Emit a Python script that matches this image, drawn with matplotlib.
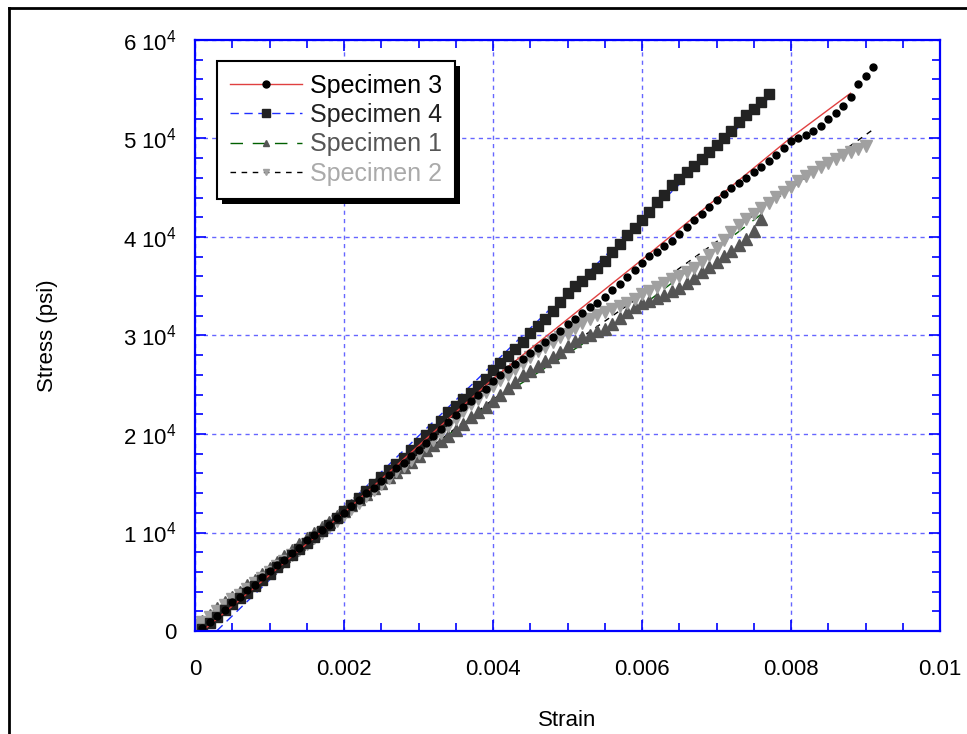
import matplotlib
matplotlib.use("Agg")
import matplotlib.pyplot as plt
from matplotlib.lines import Line2D
from matplotlib.patches import Rectangle
from matplotlib.transforms import IdentityTransform
from matplotlib.ticker import MultipleLocator

plt.rcParams['font.family'] = ['Liberation Sans', 'DejaVu Sans']
plt.rcParams['mathtext.default'] = 'regular'

# ---------------- data ----------------
spec3_strain = [0.0001, 0.0002, 0.0003, 0.0004, 0.0005, 0.0006, 0.0007, 0.0008, 0.0009, 0.0010,
                0.0011, 0.0012, 0.0013, 0.0014, 0.0015, 0.0016, 0.0017, 0.0018, 0.0019, 0.0020,
                0.0021, 0.0022, 0.0023, 0.0024, 0.0025, 0.0026, 0.0027, 0.0028, 0.0029, 0.0030,
                0.0031, 0.0032, 0.0033, 0.0034, 0.0035, 0.0036, 0.0037, 0.0038, 0.0039, 0.0040,
                0.0041, 0.0042, 0.0043, 0.0044, 0.0045, 0.0046, 0.0047, 0.0048, 0.0049, 0.0050,
                0.0051, 0.0052, 0.0053, 0.0054, 0.0055, 0.0056, 0.0057, 0.0058, 0.0059, 0.0060,
                0.0061, 0.0062, 0.0063, 0.0064, 0.0065, 0.0066, 0.0067, 0.0068, 0.0069, 0.0070,
                0.0071, 0.0072, 0.0073, 0.0074, 0.0075, 0.0076, 0.0077, 0.0078, 0.0079, 0.0080,
                0.0081, 0.0082, 0.0083, 0.0084, 0.0085, 0.0086, 0.0087, 0.0088, 0.0089, 0.0090,
                0.0091]
spec3_stress = [300, 900, 1500, 2100, 2900, 3500, 4200, 4700, 5500, 6100,
                6700, 7200, 7900, 8400, 9200, 9700, 10300, 10800, 11500, 12000,
                12700, 13300, 14000, 14500, 15200, 15800, 16500, 17100, 17800, 18400,
                19100, 19800, 20500, 21200, 21900, 22700, 23400, 24000, 24600, 25400,
                26000, 26600, 27100, 27600, 28200, 28700, 29300, 29800, 30500, 31200,
                31700, 32300, 32900, 33300, 33900, 34600, 35200, 35900, 36600, 37400,
                38100, 38500, 39100, 39600, 40300, 41000, 41700, 42300, 43000, 43800,
                44400, 45000, 45500, 46000, 46600, 47100, 47700, 48300, 49000, 49700,
                50000, 50400, 50800, 51300, 52000, 52600, 53300, 54200, 55500, 56300,
                57300]
spec3_fit_strain = [0.0001, 0.002, 0.004, 0.006, 0.008, 0.0088]
spec3_fit_stress = [0, 12000, 25600, 37700, 50100, 54600]

spec4_strain = [0.0001, 0.0002, 0.0003, 0.0004, 0.0005, 0.0006, 0.0007, 0.0008, 0.0009, 0.0010,
                0.0011, 0.0012, 0.0013, 0.0014, 0.0015, 0.0016, 0.0017, 0.0018, 0.0019, 0.0020,
                0.0021, 0.0022, 0.0023, 0.0024, 0.0025, 0.0026, 0.0027, 0.0028, 0.0029, 0.0030,
                0.0031, 0.0032, 0.0033, 0.0034, 0.0035, 0.0036, 0.0037, 0.0038, 0.0039, 0.0040,
                0.0041, 0.0042, 0.0043, 0.0044, 0.0045, 0.0046, 0.0047, 0.0048, 0.0049, 0.0050,
                0.0051, 0.0052, 0.0053, 0.0054, 0.0055, 0.0056, 0.0057, 0.0058, 0.0059, 0.0060,
                0.0061, 0.0062, 0.0063, 0.0064, 0.0065, 0.0066, 0.0067, 0.0068, 0.0069, 0.0070,
                0.0071, 0.0072, 0.0073, 0.0074, 0.0075, 0.0076, 0.0077]
spec4_stress = [200, 800, 1400, 2100, 2700, 3300, 3900, 4600, 5200, 5800,
                6500, 7000, 7700, 8300, 8900, 9500, 10200, 10800, 11500, 12200,
                12800, 13500, 14200, 14900, 15600, 16300, 17000, 17600, 18400, 19100,
                19900, 20500, 21300, 22200, 22800, 23600, 24200, 24900, 25600, 26500,
                27200, 27900, 28600, 29300, 30300, 31000, 31700, 32500, 33400, 34300,
                35000, 35500, 36200, 36900, 37600, 38500, 39300, 40200, 40900, 41700,
                42500, 43600, 44300, 45300, 45900, 46600, 47200, 47900, 48600, 49300,
                50000, 50800, 51700, 52400, 53000, 53700, 54500]
spec4_fit_strain = [0.00029, 0.0077]
spec4_fit_stress = [0, 54100]

spec1_strain = [0.0000, 0.0001, 0.0002, 0.0003, 0.0004, 0.0005, 0.0006, 0.0007, 0.0008, 0.0009,
                0.0010, 0.0011, 0.0012, 0.0013, 0.0014, 0.0015, 0.0016, 0.0017, 0.0018, 0.0019,
                0.0020, 0.0021, 0.0022, 0.0023, 0.0024, 0.0025, 0.0026, 0.0027, 0.0028, 0.0029,
                0.0030, 0.0031, 0.0032, 0.0033, 0.0034, 0.0035, 0.0036, 0.0037, 0.0038, 0.0039,
                0.0040, 0.0041, 0.0042, 0.0043, 0.0044, 0.0045, 0.0046, 0.0047, 0.0048, 0.0049,
                0.0050, 0.0051, 0.0052, 0.0053, 0.0054, 0.0055, 0.0056, 0.0057, 0.0058, 0.0059,
                0.0060, 0.0061, 0.0062, 0.0063, 0.0064, 0.0065, 0.0066, 0.0067, 0.0068, 0.0069,
                0.0070, 0.0071, 0.0072, 0.0073, 0.0074, 0.0075, 0.0076]
spec1_stress = [700, 1000, 1600, 2300, 2900, 3500, 4000, 4700, 5200, 5800,
                6400, 7000, 7600, 8200, 8800, 9400, 10000, 10600, 11100, 11700,
                12200, 12800, 13400, 13900, 14500, 15000, 15600, 16100, 16700, 17200,
                17800, 18400, 18900, 19300, 19800, 20400, 21000, 21700, 22200, 22700,
                23300, 24000, 24700, 25300, 26000, 26400, 26900, 27400, 27800, 28300,
                28900, 29400, 29800, 30100, 30500, 30700, 31200, 31800, 32400, 32900,
                33300, 33500, 33800, 34100, 34500, 34800, 35300, 35800, 36400, 37000,
                37500, 38100, 38600, 39200, 39800, 40600, 41800]
spec1_fit_strain = [0.0, 0.002, 0.004, 0.006, 0.0076]
spec1_fit_stress = [600, 12000, 23300, 33000, 42300]

spec2_strain = [0.0000, 0.0001, 0.0002, 0.0003, 0.0004, 0.0005, 0.0006, 0.0007, 0.0008, 0.0009,
                0.0010, 0.0011, 0.0012, 0.0013, 0.0014, 0.0015, 0.0016, 0.0017, 0.0018, 0.0019,
                0.0020, 0.0021, 0.0022, 0.0023, 0.0024, 0.0025, 0.0026, 0.0027, 0.0028, 0.0029,
                0.0030, 0.0031, 0.0032, 0.0033, 0.0034, 0.0035, 0.0036, 0.0037, 0.0038, 0.0039,
                0.0040, 0.0041, 0.0042, 0.0043, 0.0044, 0.0045, 0.0046, 0.0047, 0.0048, 0.0049,
                0.0050, 0.0051, 0.0052, 0.0053, 0.0054, 0.0055, 0.0056, 0.0057, 0.0058, 0.0059,
                0.0060, 0.0061, 0.0062, 0.0063, 0.0064, 0.0065, 0.0066, 0.0067, 0.0068, 0.0069,
                0.0070, 0.0071, 0.0072, 0.0073, 0.0074, 0.0075, 0.0076, 0.0077, 0.0078, 0.0079,
                0.0080, 0.0081, 0.0082, 0.0083, 0.0084, 0.0085, 0.0086, 0.0087, 0.0088, 0.0089,
                0.0090]
spec2_stress = [600, 900, 1400, 2000, 2600, 3200, 3700, 4300, 4900, 5400,
                6000, 6600, 7100, 7700, 8200, 8800, 9400, 10000, 10600, 11200,
                11800, 12400, 13000, 13700, 14300, 14900, 15500, 16200, 16800, 17400,
                18100, 18800, 19400, 20100, 20800, 21500, 22300, 23000, 23600, 24300,
                24900, 25500, 26000, 26600, 27200, 27800, 28400, 28800, 29300, 29800,
                30200, 30800, 31300, 31700, 32100, 32400, 32700, 33000, 33300, 33700,
                34200, 34500, 34900, 35300, 35700, 36000, 36400, 36900, 37500, 38200,
                38900, 39700, 40500, 41200, 41800, 42300, 42900, 43500, 44100, 44600,
                45100, 45700, 46200, 46600, 47100, 47500, 47900, 48300, 48600, 48900,
                49200]
spec2_fit_strain = [0.0, 0.002, 0.004, 0.006, 0.0091]
spec2_fit_stress = [400, 11900, 23500, 34100, 50900]

legend_labels = ["Specimen 3", "Specimen 4", "Specimen 1", "Specimen 2"]
x_ticks = [0, 0.002, 0.004, 0.006, 0.008, 0.01]
x_tick_labels = ["0", "0.002", "0.004", "0.006", "0.008", "0.01"]
y_ticks = [0, 10000, 20000, 30000, 40000, 50000, 60000]
y_tick_labels = ["0", "1 10$^{4}$", "2 10$^{4}$", "3 10$^{4}$", "4 10$^{4}$", "5 10$^{4}$", "6 10$^{4}$"]

# ---------------- styles ----------------
blue = '#0000ff'
c3_line, c3_mark = '#e04040', '#000000'
c4_line, c4_mark = '#2030ff', '#222222'
c1_line, c1_mark = '#006000', '#555555'
c2_line, c2_mark = '#000000', '#a0a0a0'
text_colors = ['#000000', '#222222', '#555555', '#aaaaaa']

fig = plt.figure(figsize=(9.67, 7.34), dpi=100)
ax = fig.add_axes([195/967, 1 - 631/734, 745/967, 591/734])

# fit lines
ax.plot(spec1_fit_strain, spec1_fit_stress, color=c1_line, lw=1, dashes=(9, 7), zorder=1)
ax.plot(spec2_fit_strain, spec2_fit_stress, color=c2_line, lw=1, dashes=(4, 4), zorder=1)
ax.plot(spec4_fit_strain, spec4_fit_stress, color=c4_line, lw=1, dashes=(6, 4), zorder=1)

# markers
ax.plot(spec1_strain, spec1_stress, ls='none', marker='^', ms=8.5, color=c1_mark, mec=c1_mark, zorder=2)
ax.plot(spec2_strain, spec2_stress, ls='none', marker='v', ms=8.5, color=c2_mark, mec=c2_mark, zorder=2.1)
ax.plot(spec4_strain, spec4_stress, ls='none', marker='s', ms=7, color=c4_mark, mec=c4_mark, zorder=2.2)
ax.plot(spec3_fit_strain, spec3_fit_stress, color=c3_line, lw=1, zorder=2.25)
ax.plot(spec3_strain, spec3_stress, ls='none', marker='o', ms=5, color=c3_mark, mec=c3_mark, zorder=2.3)

ax.set_xlim(0, 0.01)
ax.set_ylim(0, 60000)
ax.set_xticks(x_ticks)
ax.set_xticklabels(x_tick_labels)
ax.set_yticks(y_ticks)
ax.set_yticklabels(y_tick_labels)
ax.xaxis.set_minor_locator(MultipleLocator(0.0005))
ax.yaxis.set_minor_locator(MultipleLocator(2000))
ax.tick_params(which='both', direction='in', top=True, right=True, color=blue, width=1.2)
ax.tick_params(which='major', length=8)
ax.tick_params(which='minor', length=6)
ax.tick_params(axis='x', which='major', labelsize=16, pad=20)
ax.tick_params(axis='y', which='major', labelsize=16, pad=13)
for sp in ax.spines.values():
    sp.set_color(blue)
    sp.set_linewidth(1.6)

ax.grid(True, which='major', color='#3333ff', alpha=0.75, lw=1, dashes=(3, 3))
ax.set_axisbelow(True)

ax.set_xlabel("Strain", fontsize=16)
ax.set_ylabel("Stress (psi)", fontsize=16)
ax.xaxis.set_label_coords(0.5, -(710 - 631) / 591)
ax.yaxis.set_label_coords((58 - 195) / 745, 0.5)

handles = [
    Line2D([], [], color=c3_line, lw=1, marker='o', ms=5, mfc=c3_mark, mec=c3_mark),
    Line2D([], [], color=c4_line, lw=1, dashes=(6, 4), marker='s', ms=6, mfc=c4_mark, mec=c4_mark),
    Line2D([], [], color=c1_line, lw=1, dashes=(9, 7), marker='^', ms=5, mfc=c1_mark, mec=c1_mark),
    Line2D([], [], color=c2_line, lw=1, dashes=(4, 4), marker='v', ms=5, mfc=c2_mark, mec=c2_mark),
]
leg = ax.legend(handles, legend_labels, loc='upper left',
                bbox_to_anchor=((217 - 195) / 745, (631 - 61) / 591),
                borderaxespad=0, fontsize=18, numpoints=1, handlelength=2.9,
                handletextpad=0.32, labelspacing=0.22, borderpad=0.5,
                fancybox=False, framealpha=1, edgecolor='black')
leg.get_frame().set_linewidth(1.5)
leg.set_zorder(5)
for t, c in zip(leg.get_texts(), text_colors):
    t.set_color(c)

fig.canvas.draw()
bb = leg.get_window_extent()
shadow = Rectangle((bb.x0 + 5, bb.y0 - 5), bb.width, bb.height, transform=IdentityTransform(),
                   facecolor='black', edgecolor='none', zorder=4.9)
ax.add_artist(shadow)

# outer frame lines (top and left)
fig.add_artist(Line2D([9/967, 1], [1 - 8/734, 1 - 8/734], color='black', lw=2, transform=fig.transFigure))
fig.add_artist(Line2D([9/967, 9/967], [0, 1 - 8/734], color='black', lw=2, transform=fig.transFigure))

fig.savefig("out.png", dpi=100)
